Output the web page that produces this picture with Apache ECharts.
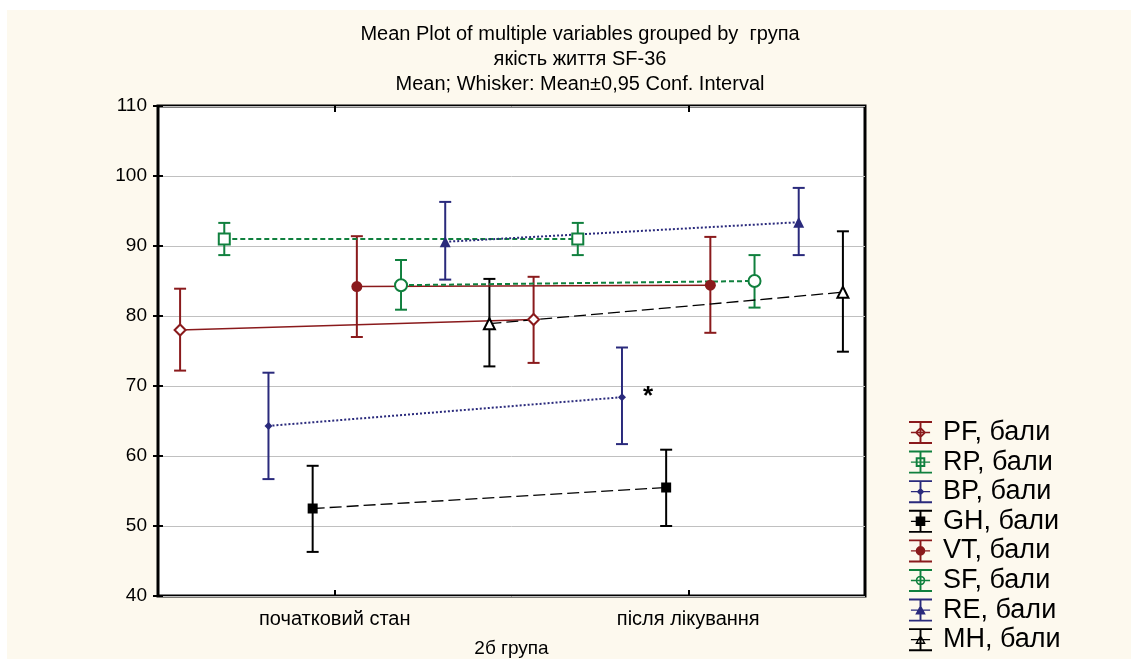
<!DOCTYPE html>
<html>
<head>
<meta charset="utf-8">
<script src="https://cdn.jsdelivr.net/npm/echarts@6/dist/echarts.min.js"></script>
<style>
  html, body { margin: 0; padding: 0; background: #fff; }
  #bg { position: absolute; left: 7px; top: 10px; width: 1124px; height: 649px; background: #fdf9ee; }
  #main { position: absolute; left: 0; top: 0; width: 1131px; height: 659px; }
</style>
</head>
<body>
<div id="bg"></div>
<div id="main"></div>
<script>
// groups on the x axis and the eight SF-36 scales
const groups = ['початковий стан', 'після лікування'];
const variables = ['PF, бали', 'RP, бали', 'BP, бали', 'GH, бали', 'VT, бали', 'SF, бали', 'RE, бали', 'MH, бали'];

// means and 95% CI bounds (order as in variables)
const meanBefore = [78.0, 91.0, 64.3, 52.5, 84.2, 84.4, 90.6, 78.9];
const lowBefore  = [72.2, 88.7, 56.7, 46.3, 77.0, 80.9, 85.2, 72.8];
const highBefore = [83.9, 93.3, 71.9, 58.6, 91.4, 88.0, 96.3, 85.3];
const meanAfter  = [79.5, 91.0, 68.4, 55.5, 84.4, 85.0, 93.4, 83.4];
const lowAfter   = [73.3, 88.7, 61.7, 50.0, 77.6, 81.2, 88.7, 74.9];
const highAfter  = [85.6, 93.3, 75.5, 60.9, 91.3, 88.7, 98.3, 92.1];

const yTicks = [40, 50, 60, 70, 80, 90, 100, 110];

// styles
const RED = '#8a1a1c', GREEN = '#10803e', NAVY = '#2a2a7c', BLACK = '#000';
const colors  = [RED, GREEN, NAVY, BLACK, RED, GREEN, NAVY, BLACK];
const symbols = ['emptyDiamond', 'emptyRect', 'diamond', 'rect', 'circle', 'emptyCircle', 'triangle', 'emptyTriangle'];
const symSize = [11, 11, 8, 10, 11, 12, 11, 11];
const lineType = ['solid', [5, 3], [2, 2], [12, 5], 'solid', [5, 3], [2, 2], [12, 5]];
const lineW = [1.5, 2, 2, 1.3, 1.5, 2, 2, 1.3];

// legend icons: whisker (I-beam) with the marker on it
const beam = 'M0 0H24V2H0Z M0 22H24V24H0Z M11 0H13V24H11Z M2 11.3H22V12.7H2Z ';
const markIcons = [
  'M12 6L18 12L12 18L6 12Z M12 8.6L8.6 12L12 15.4L15.4 12Z',
  'M7 7H17V17H7Z M9 9V15H15V9Z',
  'M12 8L16 12L12 16L8 12Z',
  'M7 7H17V17H7Z',
  'M17 12A5 5 0 1 1 7 12A5 5 0 1 1 17 12Z',
  'M17 12A5 5 0 1 1 7 12A5 5 0 1 1 17 12Z M15.3 12A3.3 3.3 0 1 0 8.7 12A3.3 3.3 0 1 0 15.3 12Z',
  'M12 6.5L17.5 16.5H6.5Z',
  'M12 6.5L17.5 16.5H6.5Z M12 9.6L8.9 15H15.1Z'
];

const FONT = '"Liberation Sans", Arial, sans-serif';
const xPos = (g, k) => 2 * g + 1 + (k - 3.5) * 0.25;

function renderWhisker(params, api) {
  const x = api.value(0);
  const lo = api.coord([x, api.value(1)]);
  const hi = api.coord([x, api.value(2)]);
  const half = 6;
  const style = { stroke: api.visual('color'), lineWidth: 2 };
  return {
    type: 'group',
    children: [
      { type: 'line', shape: { x1: lo[0], y1: hi[1], x2: lo[0], y2: lo[1] }, style: style },
      { type: 'line', shape: { x1: lo[0] - half, y1: hi[1], x2: lo[0] + half, y2: hi[1] }, style: style },
      { type: 'line', shape: { x1: lo[0] - half, y1: lo[1], x2: lo[0] + half, y2: lo[1] }, style: style }
    ]
  };
}

const series = [];
variables.forEach((name, k) => {
  series.push({
    name: name,
    type: 'custom',
    renderItem: renderWhisker,
    itemStyle: { color: colors[k] },
    encode: { x: 0, y: [1, 2] },
    data: [
      [xPos(0, k), lowBefore[k], highBefore[k]],
      [xPos(1, k), lowAfter[k], highAfter[k]]
    ],
    z: 2,
    silent: true
  });
  const after = { value: [xPos(1, k), meanAfter[k]] };
  if (k === 2) {
    after.label = {
      show: true, formatter: '*', position: 'right', offset: [12, 0],
      fontSize: 26, fontWeight: 'bold', color: '#000', fontFamily: FONT
    };
  }
  series.push({
    name: name,
    type: 'line',
    symbol: symbols[k],
    symbolSize: symSize[k],
    showSymbol: true,
    itemStyle: { color: colors[k], borderWidth: 1.6 },
    lineStyle: { color: colors[k], width: lineW[k], type: lineType[k] },
    data: [{ value: [xPos(0, k), meanBefore[k]] }, after],
    z: 3,
    silent: true,
    animation: false
  });
});

const chart = echarts.init(document.getElementById('main'));
chart.setOption({
  animation: false,
  backgroundColor: 'transparent',
  title: {
    text: 'Mean Plot of multiple variables grouped by  група\nякість життя SF-36\nMean; Whisker: Mean±0,95 Conf. Interval',
    left: 575,
    top: 17,
    textAlign: 'center',
    textStyle: { fontFamily: FONT, fontSize: 20, fontWeight: 'normal', color: '#000', lineHeight: 25 }
  },
  legend: {
    orient: 'vertical',
    left: 904,
    top: 414,
    height: 300,
    itemWidth: 23,
    itemHeight: 23,
    itemGap: 2.6,
    selectedMode: false,
    textStyle: { fontFamily: FONT, fontSize: 27, color: '#000', lineHeight: 26, padding: [0, 0, 0, 6] },
    data: variables.map((name, k) => ({
      name: name,
      icon: 'path://' + beam + markIcons[k],
      itemStyle: { color: colors[k], borderWidth: 0 }
    }))
  },
  grid: {
    left: 158, right: 266, top: 106, bottom: 63,
    outerBoundsMode: 'none', containLabel: false,
    show: true, backgroundColor: '#fff', borderColor: '#000', borderWidth: 3
  },
  xAxis: [
    {
      type: 'value', min: 0, max: 4, position: 'bottom',
      name: '2б група', nameLocation: 'middle', nameGap: 43,
      nameTextStyle: { fontFamily: FONT, fontSize: 19, color: '#000' },
      axisLine: { show: false },
      axisTick: { show: true, inside: true, length: 6, customValues: [1, 3], lineStyle: { color: '#000', width: 2 } },
      axisLabel: {
        customValues: [1, 3], margin: 13,
        fontFamily: FONT, fontSize: 20, color: '#000',
        formatter: v => groups[Math.round((v - 1) / 2)]
      },
      splitLine: { show: false }
    },
    {
      type: 'value', min: 0, max: 4, position: 'top',
      axisLine: { show: false },
      axisTick: { show: true, inside: true, length: 6, customValues: [1, 3], lineStyle: { color: '#000', width: 2 } },
      axisLabel: { show: false },
      splitLine: { show: false }
    }
  ],
  yAxis: [
    {
      type: 'value', min: yTicks[0], max: yTicks[yTicks.length - 1], interval: 10,
      axisLine: { show: false },
      axisTick: { show: true, inside: true, length: 5, lineStyle: { color: '#000', width: 2 } },
      axisLabel: { margin: 11, fontFamily: FONT, fontSize: 19, color: '#000' },
      splitLine: { show: true, lineStyle: { color: '#c0c0c0', width: 1 } }
    },
    {
      type: 'value', min: yTicks[0], max: yTicks[yTicks.length - 1], interval: 10, position: 'right',
      axisLine: { show: false },
      axisTick: { show: true, inside: true, length: 5, lineStyle: { color: '#000', width: 2 } },
      axisLabel: { show: false },
      splitLine: { show: false }
    }
  ],
  series: series
});
</script>
</body>
</html>
